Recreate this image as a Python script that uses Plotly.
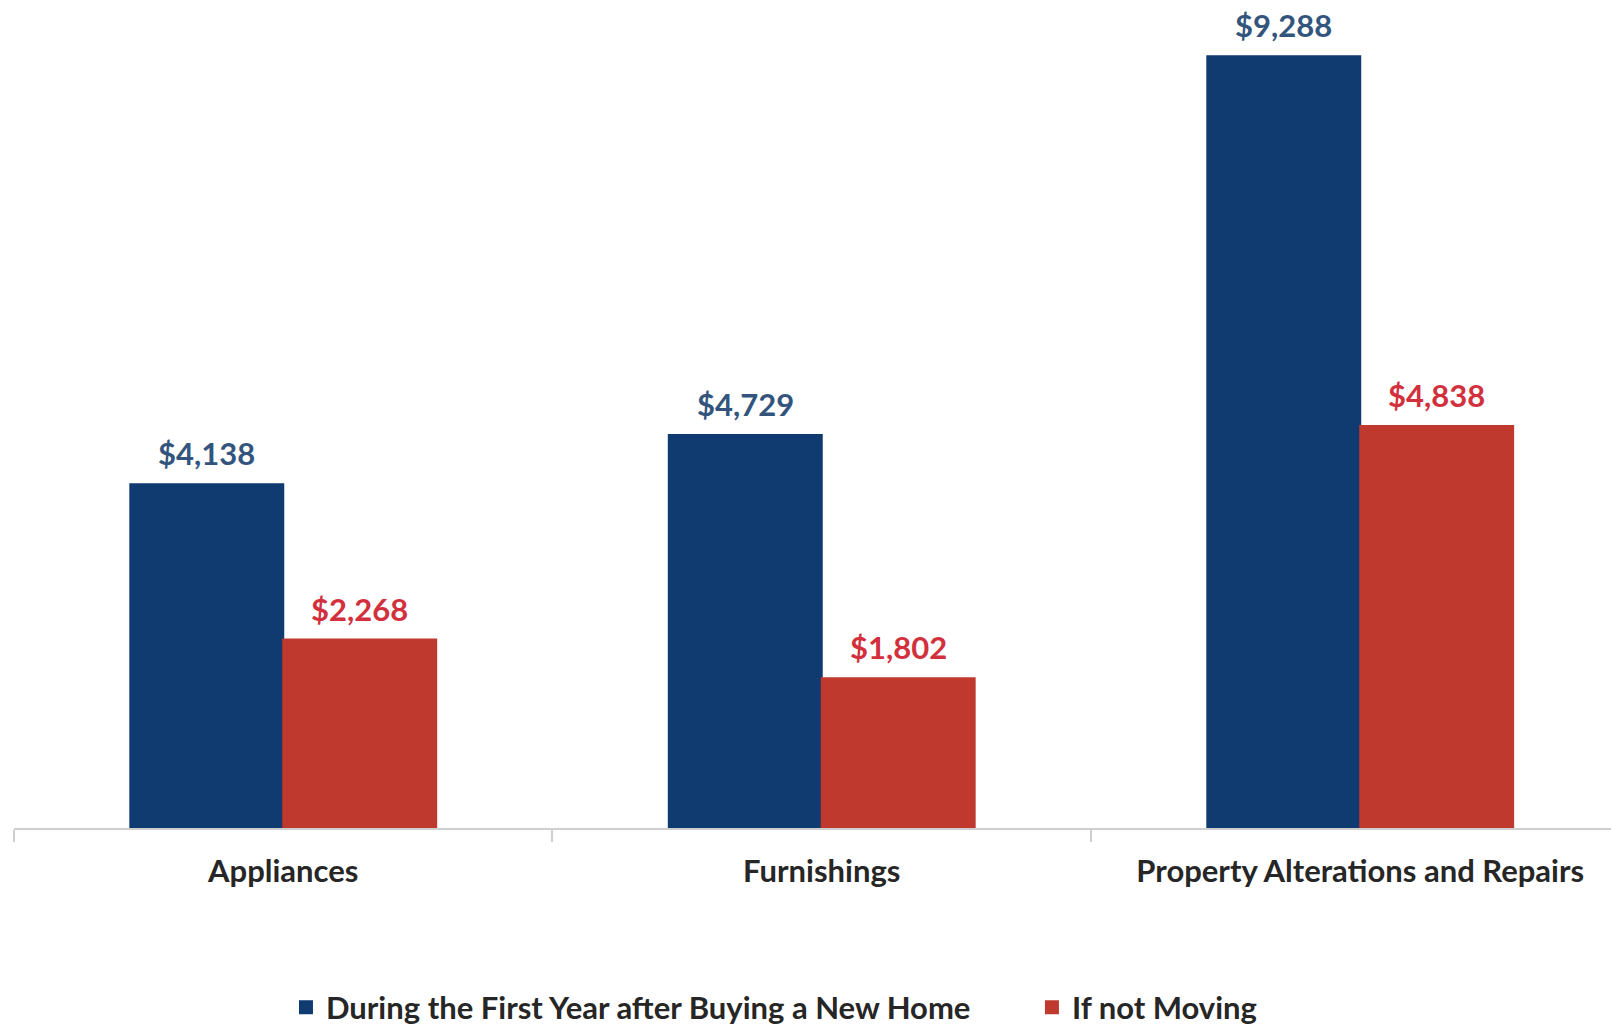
import plotly.graph_objects as go

# Spending on home-related items, by category
categories = ["Appliances", "Furnishings", "Property Alterations and Repairs"]
series_names = ["During the First Year after Buying a New Home", "If not Moving"]
new_home_values = [4138, 4729, 9288]
not_moving_values = [2268, 1802, 4838]

BLUE = "#0f3b70"
RED = "#c0392f"
BLUE_TEXT = "#33557d"
RED_TEXT = "#d2303c"
AXIS_GRAY = "#cfcfcf"
TEXT_DARK = "#262626"
FONT = "Lato"

W, H = 1611, 1025
M_L, M_B = 14, 197
X_RANGE = [-0.5, 2.4657]
BARGAP = 0.432

fig = go.Figure()
for name, vals, col, leg in [
    (series_names[0], new_home_values, BLUE, "legend"),
    (series_names[1], not_moving_values, RED, "legend2"),
]:
    fig.add_trace(go.Bar(
        x=categories, y=vals, name=name, legend=leg,
        # a thin same-coloured outline also enlarges the legend swatch
        marker=dict(color=col, line=dict(width=2, color=col)),
        hoverinfo="x+y",
    ))

# value labels centred over each bar of the group
px_per_cat = (W - M_L) / (X_RANGE[1] - X_RANGE[0])
half_bar = (1 - BARGAP) * px_per_cat / 4
annotations = []
for vals, tcol, sign in [(new_home_values, BLUE_TEXT, -1), (not_moving_values, RED_TEXT, 1)]:
    for cat, v in zip(categories, vals):
        annotations.append(dict(
            x=cat, y=v, xref="x", yref="y", text=f"${v:,}", showarrow=False,
            xanchor="center", yanchor="bottom", xshift=sign * half_bar, yshift=10,
            font=dict(family=FONT, size=31, color=tcol, weight="bold"),
        ))

legend_font = dict(family=FONT, size=31, color=TEXT_DARK, weight="bold")
legend_common = dict(orientation="h", xanchor="left", y=-0.217, yanchor="middle",
                     font=legend_font, bgcolor="rgba(0,0,0,0)")

fig.update_layout(
    width=W, height=H,
    margin=dict(l=M_L, r=0, t=0, b=M_B, autoexpand=False),
    paper_bgcolor="white", plot_bgcolor="white",
    barmode="group", bargap=BARGAP, bargroupgap=0,
    showlegend=True,
    legend=dict(x=0.1703, **legend_common),
    legend2=dict(x=0.6374, **legend_common),
    xaxis=dict(
        range=X_RANGE, showline=True, linecolor=AXIS_GRAY, linewidth=2,
        ticks="outside", tickson="boundaries", ticklen=12, tickcolor=AXIS_GRAY, tickwidth=2,
        tickfont=dict(family=FONT, size=31, color=TEXT_DARK, weight="bold"),
        ticklabelstandoff=15,
        showgrid=False, zeroline=False,
    ),
    yaxis=dict(range=[0, 9966], visible=False, showgrid=False, zeroline=False),
    annotations=annotations,
)

fig.write_html("out.html")
